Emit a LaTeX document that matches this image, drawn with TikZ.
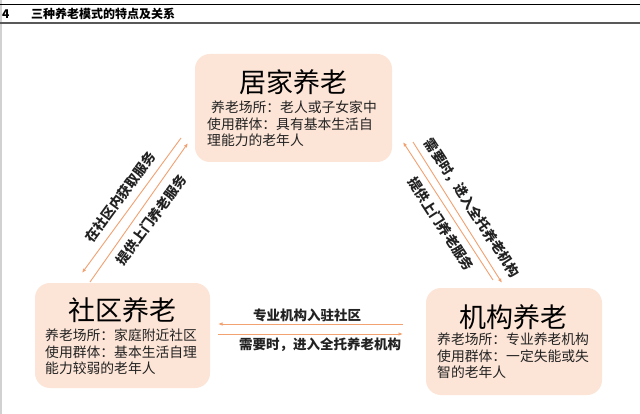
\documentclass[tikz,border=0pt]{standalone}
\usepackage{fontspec}
\newfontfamily\cjk{Noto Sans CJK SC}
\usetikzlibrary{arrows.meta}
\definecolor{boxfill}{HTML}{FCE4D6}
\definecolor{arrowc}{HTML}{F2A170}
\definecolor{txt}{HTML}{222222}
\begin{document}
\begin{tikzpicture}[x=1pt,y=-1pt,
  modebox/.style={draw=none,fill=boxfill,rounded corners=15pt,inner sep=0pt},
  boxtitle/.style={font=\cjk\fontsize{27}{30}\selectfont,text=black,inner sep=0pt},
  boxbody/.style={font=\cjk\fontsize{13.8}{16.5}\selectfont,text=txt,align=left,inner sep=0pt,anchor=north west},
  flow/.style={draw=arrowc,line width=0.9pt,-{Latex[length=4.5pt,width=3.5pt]}},
  flowlabel/.style={font=\cjk\bfseries\fontsize{13.5}{15}\selectfont,text=txt,inner sep=0pt}]
\useasboundingbox (0,0) rectangle (640,414);
\fill[white] (0,0) rectangle (640,414);
% left edge shade
\fill[black!18] (0,0) rectangle (2,414);
% header
\draw[black,line width=1.2pt] (0,4.5) -- (640,4.5);
\draw[black!65,line width=1.6pt] (0,23) -- (640,23);
\node[font=\cjk\bfseries\fontsize{12}{14}\selectfont,anchor=west,inner sep=0pt] (fig) at (2,14) {4};
\node[font=\cjk\bfseries\fontsize{12}{14}\selectfont,anchor=west,inner sep=0pt] (cap) at (31,14) {三种养老模式的特点及关系};
% boxes
\node[modebox,minimum width=197pt,minimum height=108pt] (home) at (293.5,108) {};
\node[boxtitle] (hometitle) at (293,82) {居家养老};
\node[boxbody] (homebody) at (207,101) {\hspace{4pt}养老场所：老人或子女家中\\使用群体：具有基本生活自\\理能力的老年人};

\node[modebox,minimum width=175pt,minimum height=105pt] (comm) at (122.5,335.5) {};
\node[boxtitle] (commtitle) at (122,310) {社区养老};
\node[boxbody] (commbody) at (45,329) {养老场所：家庭附近社区\\使用群体：基本生活自理\\能力较弱的老年人};

\node[modebox,minimum width=176pt,minimum height=107pt] (inst) at (514,341.5) {};
\node[boxtitle] (insttitle) at (513,317) {机构养老};
\node[boxbody] (instbody) at (437,333) {养老场所：专业养老机构\\使用群体：一定失能或失\\智的老年人};

% endpoints
\coordinate (hl1) at (181,138); \coordinate (cl1) at (82,273);
\coordinate (cl2) at (90,282);  \coordinate (hl2) at (188,143);
\coordinate (ir1) at (493,280); \coordinate (hr1) at (403,142);
\coordinate (hr2) at (413,142); \coordinate (ir2) at (502,283);
\coordinate (ib1) at (403,324); \coordinate (cb1) at (218,324);
\coordinate (cb2) at (218,334); \coordinate (ib2) at (403,334);

\draw[flow] (hl1) -- (cl1);
\draw[flow] (cl2) -- (hl2);
\draw[flow] (ir1) -- (hr1);
\draw[flow] (hr2) -- (ir2);
\draw[flow] (ib1) -- (cb1);
\draw[flow] (cb2) -- (ib2);

\node[flowlabel,rotate=53.7] (l1) at (120,197) {在社区内获取服务};
\node[flowlabel,rotate=53.7] (l2) at (151,220) {提供上门养老服务};
\node[flowlabel,rotate=-56.9] (r1) at (472,208) {需要时，进入全托养老机构};
\node[flowlabel,rotate=-56.9] (r2) at (441,224) {提供上门养老服务};
\node[flowlabel] (b1) at (307,315) {专业机构入驻社区};
\node[flowlabel] (b2) at (320,345) {需要时，进入全托养老机构};
\end{tikzpicture}
\end{document}
